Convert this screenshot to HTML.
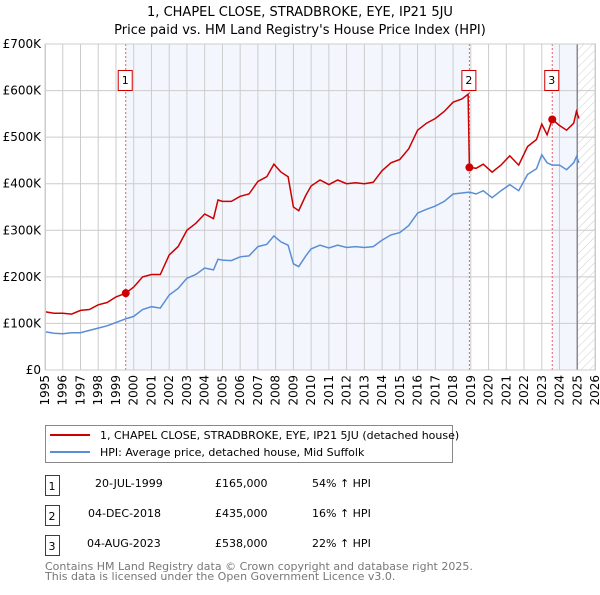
<!DOCTYPE html>
<html><head><meta charset="utf-8"><style>
body{margin:0;background:#fff;font-family:"Liberation Sans",sans-serif;}
svg text{font-family:"DejaVu Sans","Liberation Sans",sans-serif;}
</style></head><body>
<svg id="c" width="600" height="590" viewBox="0 0 600 590" xmlns="http://www.w3.org/2000/svg">
<defs><pattern id="hatch" width="6" height="6" patternUnits="userSpaceOnUse" patternTransform="rotate(45)"><line x1="0" y1="0" x2="0" y2="6" stroke="#ccc" stroke-width="1"/></pattern></defs>
<text x="300" y="16" text-anchor="middle" font-size="13">1, CHAPEL CLOSE, STRADBROKE, EYE, IP21 5JU</text>
<text x="300" y="34" text-anchor="middle" font-size="13">Price paid vs. HM Land Registry's House Price Index (HPI)</text>
<g id="plot"></g>
<g>
<rect x="45.5" y="425.5" width="407" height="37" fill="#fff" stroke="#888"/>
<line x1="50" y1="435" x2="90" y2="435" stroke="#cc0000" stroke-width="2"/>
<text x="100" y="439" font-size="11">1, CHAPEL CLOSE, STRADBROKE, EYE, IP21 5JU (detached house)</text>
<line x1="50" y1="452" x2="90" y2="452" stroke="#5b8dd6" stroke-width="2"/>
<text x="100" y="456" font-size="11">HPI: Average price, detached house, Mid Suffolk</text>
</g>
<g font-size="11">
<rect x="45.5" y="475.5" width="14" height="20" fill="none" stroke="#cc0000"/><text x="52" y="490" text-anchor="middle">1</text>
<text x="95" y="487">20-JUL-1999</text><text x="215" y="487">£165,000</text><text x="312" y="487">54% ↑ HPI</text>
<rect x="45.5" y="505.5" width="14" height="20" fill="none" stroke="#cc0000"/><text x="52" y="520" text-anchor="middle">2</text>
<text x="88" y="517">04-DEC-2018</text><text x="215" y="517">£435,000</text><text x="312" y="517">16% ↑ HPI</text>
<rect x="45.5" y="535.5" width="14" height="20" fill="none" stroke="#cc0000"/><text x="52" y="550" text-anchor="middle">3</text>
<text x="87" y="547">04-AUG-2023</text><text x="215" y="547">£538,000</text><text x="312" y="547">22% ↑ HPI</text>
</g>
<text x="45" y="570" font-size="11" fill="#777">Contains HM Land Registry data © Crown copyright and database right 2025.</text>
<text x="45" y="580" font-size="11" fill="#777">This data is licensed under the Open Government Licence v3.0.</text>
</svg>
<script>
const hpiDates=[1995.0,1995.5,1996.0,1996.5,1997.0,1997.5,1998.0,1998.5,1999.0,1999.55,2000.0,2000.5,2001.0,2001.5,2002.0,2002.5,2003.0,2003.5,2004.0,2004.5,2004.75,2005.0,2005.5,2006.0,2006.5,2007.0,2007.5,2007.9,2008.3,2008.7,2009.0,2009.3,2009.7,2010.0,2010.5,2011.0,2011.5,2012.0,2012.5,2013.0,2013.5,2014.0,2014.5,2015.0,2015.5,2016.0,2016.5,2017.0,2017.5,2018.0,2018.5,2018.92,2019.3,2019.7,2020.2,2020.7,2021.2,2021.7,2022.2,2022.7,2023.0,2023.3,2023.59,2024.0,2024.4,2024.8,2024.95,2025.1];
const hpiValues=[82,79,78,80,80,85,90,95,102,110,115,130,136,133,161,175,197,205,219,215,238,236,235,243,245,265,270,288,275,268,228,222,245,260,268,262,268,263,265,263,265,279,290,295,310,337,345,352,362,378,380,382,378,385,370,385,398,385,420,432,462,445,440,440,430,445,458,445];
const priceDates=[1995.0,1995.5,1996.0,1996.5,1997.0,1997.5,1998.0,1998.5,1999.0,1999.55,2000.0,2000.5,2001.0,2001.5,2002.0,2002.5,2003.0,2003.5,2004.0,2004.5,2004.75,2005.0,2005.5,2006.0,2006.5,2007.0,2007.5,2007.9,2008.3,2008.7,2009.0,2009.3,2009.7,2010.0,2010.5,2011.0,2011.5,2012.0,2012.5,2013.0,2013.5,2014.0,2014.5,2015.0,2015.5,2016.0,2016.5,2017.0,2017.5,2018.0,2018.5,2018.85,2018.92,2019.3,2019.7,2020.2,2020.7,2021.2,2021.7,2022.2,2022.7,2023.0,2023.3,2023.59,2024.0,2024.4,2024.8,2024.95,2025.1];
const priceValues=[125,122,122,120,128,130,140,145,157,165,178,200,205,205,247,265,300,315,335,325,365,362,362,373,378,405,415,442,425,415,350,342,375,395,408,398,408,400,402,400,403,428,445,452,475,515,530,540,555,575,582,592,435,433,442,425,440,460,440,480,495,528,505,538,525,515,530,555,540];
const saleDates=[1999.55,2018.92,2023.59];
const saleValues=[165,435,538];
const saleLabels=["1","2","3"];
const yTicks=[0,100,200,300,400,500,600,700];
const yTickLabels=["£0","£100K","£200K","£300K","£400K","£500K","£600K","£700K"];
const years=[1995,1996,1997,1998,1999,2000,2001,2002,2003,2004,2005,2006,2007,2008,2009,2010,2011,2012,2013,2014,2015,2016,2017,2018,2019,2020,2021,2022,2023,2024,2025,2026];
const dataEnd=2025.0;

const X0=45,X1=595,Y0=370,Y1=44,T0=1995,T1=2026,VMAX=700;
const xs=t=>X0+(t-T0)*(X1-X0)/(T1-T0);
const ys=v=>Y0-v*(Y0-Y1)/VMAX;
const NS="http://www.w3.org/2000/svg";
const g=document.getElementById('plot');
function mk(tag,attrs,parent){const e=document.createElementNS(NS,tag);for(const k in attrs)e.setAttribute(k,attrs[k]);(parent||g).appendChild(e);return e;}
// shading
let r;
r=mk('rect',{x:xs(saleDates[0]),y:Y1,width:xs(saleDates[1])-xs(saleDates[0]),height:Y0-Y1,fill:'#eef3fc',opacity:0.7});


r=mk('rect',{x:xs(saleDates[2]),y:Y1,width:xs(dataEnd)-xs(saleDates[2]),height:Y0-Y1,fill:'#eef3fc',opacity:0.7});


r=mk('rect',{x:xs(dataEnd),y:Y1,width:X1-xs(dataEnd),height:Y0-Y1,fill:'url(#hatch)'});


// grid
years.forEach((yr,i)=>{
 const l=mk('line',{x1:xs(yr),x2:xs(yr),y1:Y1,y2:Y0,stroke:'#ccc','stroke-width':1});
 
 
 const t=mk('text',{x:0,y:0,'font-size':12,'text-anchor':'end',transform:`translate(${xs(yr)+4},${Y0+5}) rotate(-90)`});
 t.textContent=yr;
 
 
});
yTicks.forEach((v,i)=>{
 const l=mk('line',{x1:X0,x2:X1,y1:ys(v),y2:ys(v),stroke:'#ccc','stroke-width':1});
 
 
 const t=mk('text',{x:X0-4,y:ys(v)+4,'font-size':12,'text-anchor':'end'});
 t.textContent=yTickLabels[i];
 
 
});
r=mk('line',{x1:xs(dataEnd),x2:xs(dataEnd),y1:Y1,y2:Y0,stroke:'#889',"stroke-width":1.5});


// sale vlines
saleDates.forEach((d,i)=>{
 const l=mk('line',{x1:xs(d),x2:xs(d),y1:Y1,y2:Y0,stroke:'#e06060','stroke-width':1,'stroke-dasharray':'2,2'});
 
 
});
// series
const pts=(ds,vs)=>ds.map((d,i)=>xs(d).toFixed(1)+','+ys(vs[i]).toFixed(1)).join(' ');
let p=mk('polyline',{points:pts(hpiDates,hpiValues),fill:'none',stroke:'#5b8dd6','stroke-width':1.5});


p=mk('polyline',{points:pts(priceDates,priceValues),fill:'none',stroke:'#cc0000','stroke-width':1.5});


saleDates.forEach((d,i)=>{
 const c=mk('circle',{cx:xs(d),cy:ys(saleValues[i]),r:4,fill:'#cc0000'});
 
 
 const bx=mk('rect',{x:xs(d)-7.5,y:70.5,width:14,height:20,fill:'#fff',stroke:'#cc0000'});
 
 
 const t=mk('text',{x:xs(d)-0.5,y:84,'font-size':11,'text-anchor':'middle'});
 t.textContent=saleLabels[i];
 
 
});
r=mk('rect',{x:X0+0.5,y:Y1,width:X1-X0,height:Y0-Y1,fill:'none',stroke:'#ccc'});


</script>
</body></html>
